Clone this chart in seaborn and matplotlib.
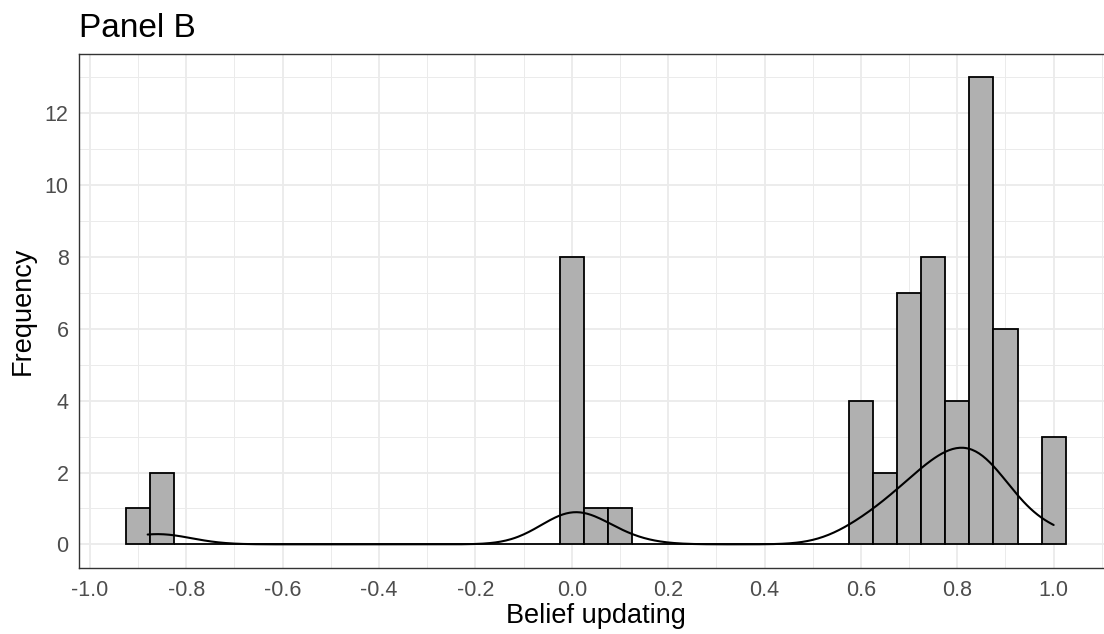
import numpy as np
import pandas as pd
import matplotlib
matplotlib.use("Agg")
import matplotlib.pyplot as plt
import seaborn as sns

############################################
# Data
############################################
scores = [-0.88, -0.86, -0.84, 0.0, 0.05, 0.10,
          0.61, 0.66, 0.71, 0.76, 0.80, 0.84, 0.89, 1.00]
counts = [1, 1, 1, 8, 1, 1,
          4, 2, 7, 8, 4, 13, 6, 3]
x_ticks = [-1.0, -0.8, -0.6, -0.4, -0.2, 0.0, 0.2, 0.4, 0.6, 0.8, 1.0]
y_ticks = [0, 2, 4, 6, 8, 10, 12]

df = pd.DataFrame({"belief": np.repeat(scores, counts)})

# density like R's geom_density (gaussian, bw.nrd0)
vals = df["belief"].to_numpy()
n = len(vals)
iqr = np.subtract(*np.percentile(vals, [75, 25]))
bw = 0.9 * min(vals.std(ddof=1), iqr / 1.34) * n ** (-0.2)
grid = np.linspace(vals.min(), vals.max(), 512)
dens = np.exp(-0.5 * ((grid[:, None] - vals[None, :]) / bw) ** 2).sum(axis=1) / (n * bw * np.sqrt(2 * np.pi))
kde = pd.DataFrame({"x": grid, "y": dens})

############################################
# Plotting
############################################
sns.set_theme(style="white")
plt.rcParams['font.family'] = ['Liberation Sans', 'DejaVu Sans']
plt.rcParams['axes.unicode_minus'] = False

fig = plt.figure(figsize=(11.04, 6.34), dpi=100)
# panel runs past the right edge, as in the reference crop
ax = fig.add_axes([79 / 1104, 1 - 567.7 / 634, (1112.7 - 79) / 1104, (567.7 - 54) / 634])

sns.histplot(data=df, x="belief", binwidth=0.05, binrange=(-0.925, 1.025),
             color="#B0B0B0", edgecolor="black", linewidth=1.3, alpha=1, ax=ax, zorder=2)
sns.lineplot(data=kde, x="x", y="y", color="black", lw=1.5, ax=ax, zorder=3)

ax.set_xticks(x_ticks)
ax.set_xticklabels([f"{t:.1f}" for t in x_ticks])
ax.set_yticks(y_ticks)
ax.set_xticks(np.arange(-1.1, 1.15, 0.2), minor=True)
ax.set_yticks(np.arange(1, 14, 2), minor=True)
ax.set_xlim(-1.0225, 1.1225)
ax.set_ylim(-0.65, 13.65)

ax.grid(which="major", color="#EBEBEB", lw=1.3, zorder=0)
ax.grid(which="minor", color="#EBEBEB", lw=0.7, zorder=0)
ax.set_axisbelow(True)
for s in ax.spines.values():
    s.set_color("#333333")
    s.set_linewidth(1.0)

ax.tick_params(which="major", length=4.5, width=1.0, color="#333333",
               labelsize=15.5, labelcolor="#4D4D4D", pad=3)
ax.tick_params(which="minor", length=0)
ax.tick_params(axis="x", pad=4)

ax.set_xlabel("Belief updating", fontsize=19.5, color="black", labelpad=2)
ax.set_ylabel("Frequency", fontsize=19.5, color="black", labelpad=6)
ax.set_title("Panel B", loc="left", fontsize=24, color="black", pad=12)

plt.savefig("out.png", dpi=100)
